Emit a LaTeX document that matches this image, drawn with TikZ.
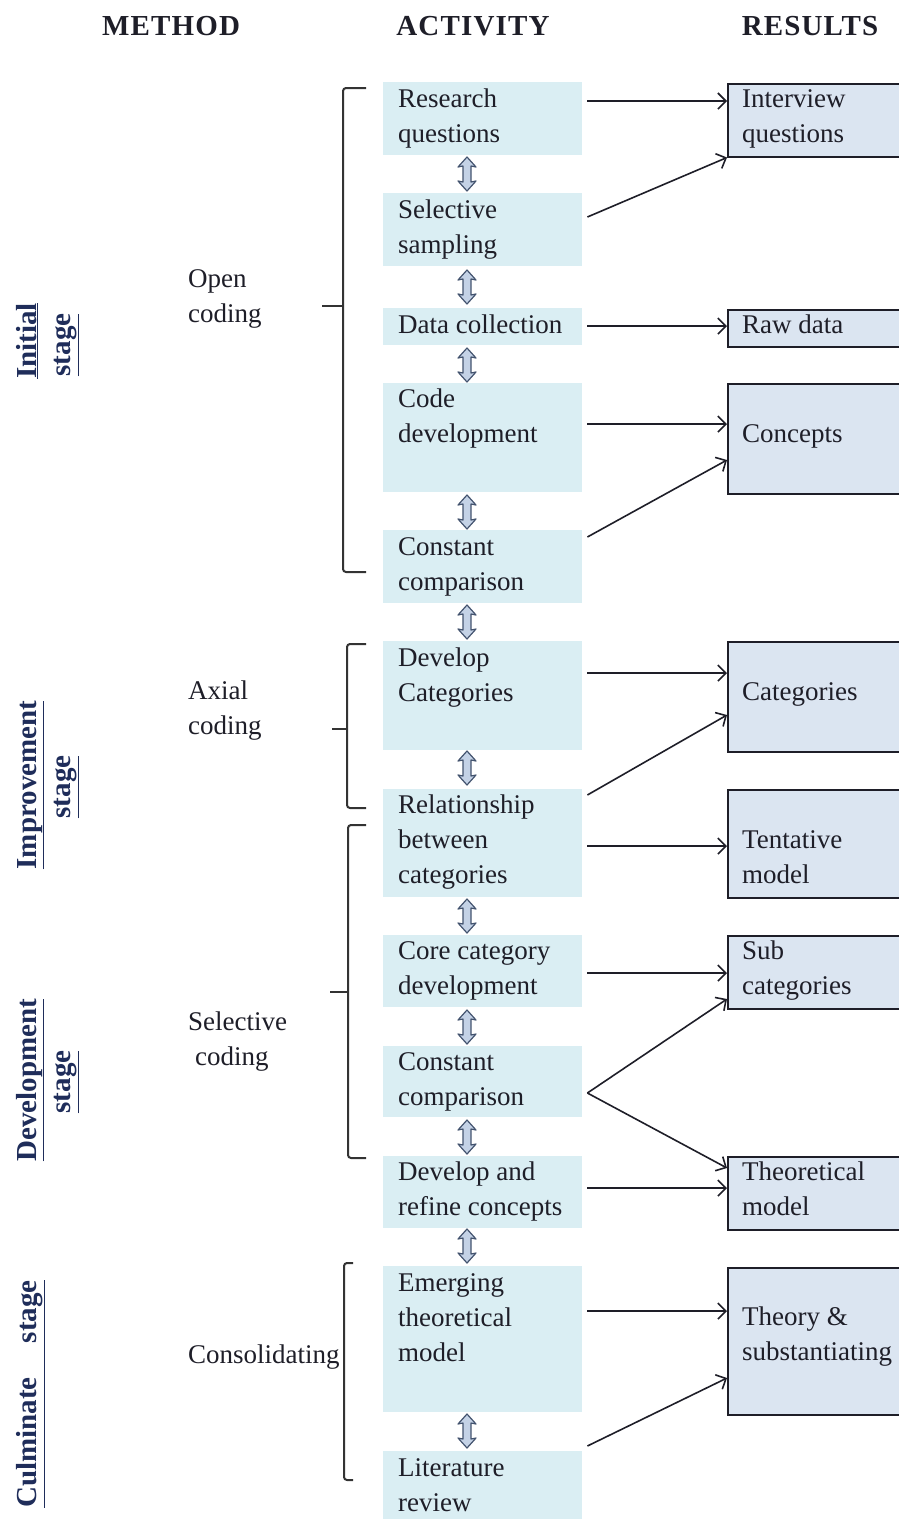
\documentclass[tikz,border=0pt]{standalone}
\usepackage{fontspec}
\setmainfont{Liberation Serif}
\newfontfamily\headfont[LetterSpace=4]{Liberation Serif}
\usetikzlibrary{arrows.meta}

\definecolor{actfill}{HTML}{DAEEF3}
\definecolor{resfill}{HTML}{DBE5F1}
\definecolor{stagecol}{HTML}{1F2D5A}
\definecolor{inkcol}{HTML}{1E1E28}
\definecolor{dafill}{HTML}{C4D2E6}
\definecolor{daline}{HTML}{44546F}
\definecolor{bracecol}{HTML}{333333}

% stacked lines whose baseline is that of the first line
\newcommand\txtlines[1]{\begin{tabular}[t]{@{}l@{}}#1\end{tabular}}

\tikzset{
  actbox/.style={rectangle, fill=actfill, draw=none, minimum width=199pt,
    inner sep=0pt, anchor=north west},
  resbox/.style={rectangle, fill=resfill, draw=inkcol, line width=1.5pt,
    minimum width=185pt, inner sep=0pt, anchor=north west},
  txt/.style={anchor=base west, inner sep=0pt,
    font=\fontsize{27}{35}\selectfont, text=inkcol},
  header/.style={anchor=base, inner sep=0pt,
    font=\headfont\fontsize{29}{34}\selectfont\bfseries, text=inkcol},
  stagelbl/.style={anchor=base, inner sep=0pt, rotate=90,
    font=\fontsize{29}{34}\selectfont\bfseries, text=stagecol},
  flow/.style={draw=inkcol, line width=1.6pt,
    -{Straight Barb[length=8pt,width=16pt,line width=1.6pt]}},
  bracket/.style={draw=bracecol, line width=2pt, rounded corners=3pt},
  dastyle/.style={fill=dafill, draw=daline, line width=1.2pt, line join=round}
}

% vertical two-headed block arrow between activity boxes
\newcommand\updown[2]{%
  \draw[dastyle, shift={(#1,#2)}] (0,-17) -- (9,-7) -- (4,-8) -- (4,8) --
    (9,7) -- (0,17) -- (-9,7) -- (-4,8) -- (-4,-8) -- (-9,-7) -- cycle;}

\begin{document}
\begin{tikzpicture}[x=1pt, y=-1pt]
\useasboundingbox (0,0) rectangle (899,1519);
\clip (0,0) rectangle (899,1519);

% column headings
\node[header] (hm) at (171,35) {METHOD};
\node[header] (ha) at (473,35) {ACTIVITY};
\node[header] (hr) at (810,35) {RESULTS};

% stage labels
\node[stagelbl] (s1a) at (36,341) {\underline{Initial}};
\node[stagelbl] (s1b) at (70,345) {\underline{stage}};
\node[stagelbl] (s2a) at (36,785) {\underline{Improvement}};
\node[stagelbl] (s2b) at (70,787) {\underline{stage}};
\node[stagelbl] (s3a) at (36,1080) {\underline{Development}};
\node[stagelbl] (s3b) at (70,1082) {\underline{stage}};
\node[stagelbl] (s4) at (36,1394) {\underline{Culminate\hspace{34pt}stage}};

% method labels
\node[txt] (m1) at (188,287) {\txtlines{Open\\coding}};
\node[txt] (m2) at (188,699) {\txtlines{Axial\\coding}};
\node[txt] (m3) at (188,1030) {\txtlines{Selective\\\hspace*{7pt}coding}};
\node[txt] (m4) at (188,1363) {Consolidating};

% brackets grouping the activities
\draw[bracket] (366,88) -- (343,88) -- (343,572) -- (366,572);
\draw[bracket] (322,306) -- (343,306);
\draw[bracket] (366,644) -- (347,644) -- (347,808) -- (366,808);
\draw[bracket] (332,729) -- (347,729);
\draw[bracket] (366,825) -- (348,825) -- (348,1158) -- (366,1158);
\draw[bracket] (330,992) -- (348,992);
\draw[bracket] (353,1263) -- (344,1263) -- (344,1480) -- (353,1480);

% activity boxes
\node[actbox, minimum height=73pt]  (a1)  at (383,82)   {};
\node[actbox, minimum height=73pt]  (a2)  at (383,193)  {};
\node[actbox, minimum height=37pt]  (a3)  at (383,308)  {};
\node[actbox, minimum height=109pt] (a4)  at (383,383)  {};
\node[actbox, minimum height=73pt]  (a5)  at (383,530)  {};
\node[actbox, minimum height=109pt] (a6)  at (383,641)  {};
\node[actbox, minimum height=108pt] (a7)  at (383,789)  {};
\node[actbox, minimum height=72pt]  (a8)  at (383,935)  {};
\node[actbox, minimum height=71pt]  (a9)  at (383,1046) {};
\node[actbox, minimum height=72pt]  (a10) at (383,1156) {};
\node[actbox, minimum height=146pt] (a11) at (383,1266) {};
\node[actbox, minimum height=80pt]  (a12) at (383,1451) {};

\node[txt] (ta1)  at (398,107)  {\txtlines{Research\\questions}};
\node[txt] (ta2)  at (398,218)  {\txtlines{Selective\\sampling}};
\node[txt] (ta3)  at (398,333)  {Data collection};
\node[txt] (ta4)  at (398,407)  {\txtlines{Code\\development}};
\node[txt] (ta5)  at (398,555)  {\txtlines{Constant\\comparison}};
\node[txt] (ta6)  at (398,666)  {\txtlines{Develop\\Categories}};
\node[txt] (ta7)  at (398,813)  {\txtlines{Relationship\\between\\categories}};
\node[txt] (ta8)  at (398,959)  {\txtlines{Core category\\development}};
\node[txt] (ta9)  at (398,1070) {\txtlines{Constant\\comparison}};
\node[txt] (ta10) at (398,1180) {\txtlines{Develop and\\refine concepts}};
\node[txt] (ta11) at (398,1291) {\txtlines{Emerging\\theoretical\\model}};
\node[txt] (ta12) at (398,1476) {\txtlines{Literature\\review}};

% links between successive activities
\updown{467}{174}
\updown{467}{287}
\updown{467}{365}
\updown{467}{512}
\updown{467}{622}
\updown{467}{768}
\updown{467}{916}
\updown{467}{1027}
\updown{467}{1137}
\updown{467}{1246}
\updown{467}{1431}

% result boxes
\node[resbox, minimum height=73pt]  (r1) at (727,83)   {};
\node[resbox, minimum height=37pt]  (r2) at (727,309)  {};
\node[resbox, minimum height=110pt] (r3) at (727,383)  {};
\node[resbox, minimum height=110pt] (r4) at (727,641)  {};
\node[resbox, minimum height=108pt] (r5) at (727,789)  {};
\node[resbox, minimum height=73pt]  (r6) at (727,935)  {};
\node[resbox, minimum height=73pt]  (r7) at (727,1156) {};
\node[resbox, minimum height=147pt] (r8) at (727,1267) {};

\node[txt] (tr1) at (742,107)  {\txtlines{Interview\\questions}};
\node[txt] (tr2) at (742,333)  {Raw data};
\node[txt] (tr3) at (742,442)  {Concepts};
\node[txt] (tr4) at (742,700)  {Categories};
\node[txt] (tr5) at (742,848)  {\txtlines{Tentative\\model}};
\node[txt] (tr6) at (742,959)  {\txtlines{Sub\\categories}};
\node[txt] (tr7) at (742,1180) {\txtlines{Theoretical\\model}};
\node[txt] (tr8) at (742,1325) {\txtlines{Theory \&\\substantiating}};

% activity to result arrows
\draw[flow] ([xshift=5pt]a1.east |- 0,101) -- (r1.west |- 0,101);
\draw[flow] ([xshift=5pt]a2.east |- 0,217) -- (r1.south west);
\draw[flow] ([xshift=5pt]a3.east |- 0,326) -- (r2.west |- 0,326);
\draw[flow] ([xshift=5pt]a4.east |- 0,424) -- (r3.west |- 0,424);
\draw[flow] ([xshift=5pt]a5.east |- 0,537) -- (r3.west |- 0,460);
\draw[flow] ([xshift=5pt]a6.east |- 0,673) -- (r4.west |- 0,673);
\draw[flow] ([xshift=5pt]a7.east |- 0,795) -- (r4.west |- 0,715);
\draw[flow] ([xshift=5pt]a7.east |- 0,846) -- (r5.west |- 0,846);
\draw[flow] ([xshift=5pt]a8.east |- 0,973) -- (r6.west |- 0,973);
\draw[flow] ([xshift=5pt]a9.east |- 0,1093) -- (r6.west |- 0,999);
\draw[flow] ([xshift=5pt]a9.east |- 0,1093) -- (r7.west |- 0,1168);
\draw[flow] ([xshift=5pt]a10.east |- 0,1188) -- (r7.west |- 0,1188);
\draw[flow] ([xshift=5pt]a11.east |- 0,1311) -- (r8.west |- 0,1311);
\draw[flow] ([xshift=5pt]a12.east |- 0,1446) -- (r8.west |- 0,1378);
\end{tikzpicture}
\end{document}
